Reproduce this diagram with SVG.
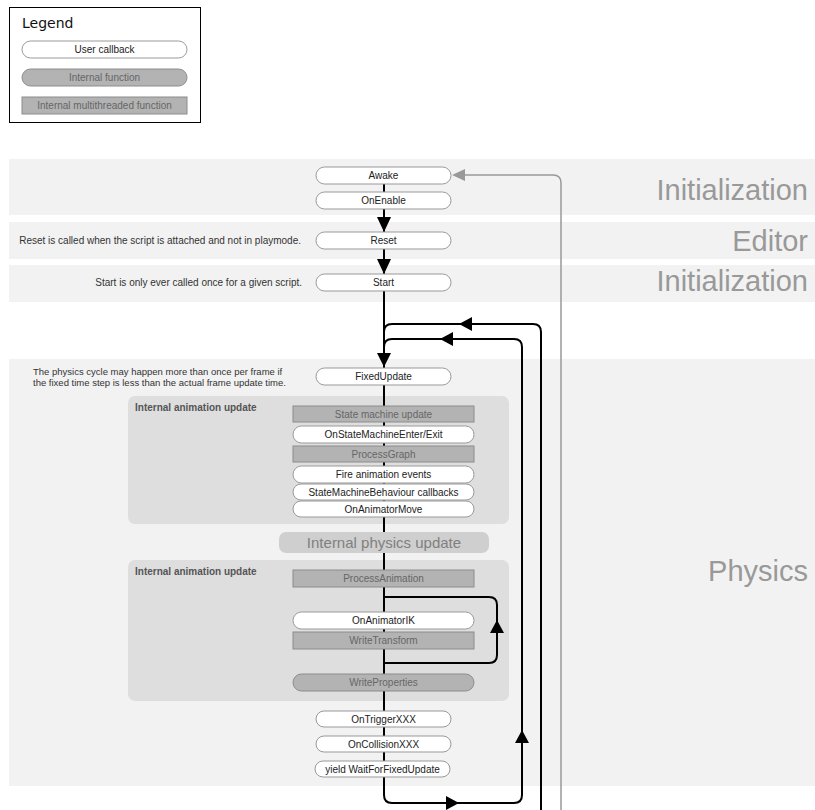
<svg xmlns="http://www.w3.org/2000/svg" width="815" height="810" viewBox="0 0 815 810">
<style>
text{font-family:"Liberation Sans",Arial,sans-serif}
.band{fill:#f2f2f2}
.big{font-size:29px;fill:#999;text-anchor:end}
.note{font-size:10px;fill:#333}
.cb rect{fill:#fff;stroke:#999;stroke-width:1}
.cb text{font-size:10px;fill:#222;text-anchor:middle}
.fn rect{fill:#b3b3b3;stroke:#8c8c8c;stroke-width:1}
.fn text{font-size:10px;fill:#666;text-anchor:middle}
.mt rect{fill:#b3b3b3;stroke:#8c8c8c;stroke-width:1}
.mt text{font-size:10px;fill:#666;text-anchor:middle}
.anim{fill:#dedede}
.hdr{font-size:10px;font-weight:bold;fill:#555}
.flow{fill:none;stroke:#000;stroke-width:2}
.ah{fill:#000}
</style>
<!-- Legend -->
<g id="legend">
<rect x="9.5" y="7.5" width="191" height="115" fill="#fff" stroke="#000" stroke-width="1"/>
<text x="22" y="28" style="font-family:'DejaVu Sans',sans-serif;font-size:14px" fill="#111">Legend</text>
<g class="cb"><rect x="22" y="41" width="165" height="17" rx="8.5"/><text x="104.5" y="53" fill="#4a3030">User callback</text></g>
<g class="fn"><rect x="22" y="69" width="165" height="17" rx="8.5"/><text x="104.5" y="81">Internal function</text></g>
<g class="mt"><rect x="22" y="97" width="165" height="17"/><text x="104.5" y="109">Internal multithreaded function</text></g>
</g>
<!-- Bands -->
<g id="bands">
<rect class="band" x="9" y="159" width="806" height="56"/>
<rect class="band" x="9" y="222" width="806" height="37"/>
<rect class="band" x="9" y="265" width="806" height="37"/>
<rect class="band" x="9" y="359" width="806" height="427"/>
<text class="big" x="808" y="200">Initialization</text>
<text class="big" x="808" y="251">Editor</text>
<text class="big" x="808" y="291">Initialization</text>
<text class="big" x="808" y="581">Physics</text>
<text class="note" x="301" y="244" text-anchor="end">Reset is called when the script is attached and not in playmode.</text>
<text class="note" x="302" y="286" text-anchor="end">Start is only ever called once for a given script.</text>
<text class="note" x="33" y="375" style="font-size:9.5px">The physics cycle may happen more than once per frame if</text>
<text class="note" x="33" y="386" style="font-size:9.5px">the fixed time step is less than the actual frame update time.</text>
</g>
<g id="anim1">
<rect class="anim" x="128" y="396" width="381" height="128" rx="7"/>
<text class="hdr" x="135" y="411">Internal animation update</text>
</g>
<g id="anim2">
<rect class="anim" x="128" y="560" width="381" height="141" rx="7"/>
<text class="hdr" x="135" y="575">Internal animation update</text>
</g>
<!-- Connectors -->
<g id="connectors">
<line x1="384" y1="184" x2="384" y2="795" stroke="#000" stroke-width="2"/>
<path class="flow" d="M384,795 Q384,803 392,803 L514,803 Q522,803 522,795 L522,347 Q522,339 514,339 L392,339 Q384,339 384,347"/>
<path class="flow" d="M541,812 L541,332 Q541,324 533,324 L392,324 Q384,324 384,332"/>
<path class="flow" d="M384,597 L489,597 Q497,597 497,605 L497,655 Q497,663 489,663 L384,663"/>
<path d="M464,175 L553,175 Q561,175 561,183 L561,812" fill="none" stroke="#999" stroke-width="1.5"/>
<path d="M452,175 L465,169 L465,181 Z" fill="#999"/>
<path class="ah" d="M384,232 L377,217 L391,217 Z"/>
<path class="ah" d="M384,274 L377,259 L391,259 Z"/>
<path class="ah" d="M384,367 L377,353 L391,353 Z"/>
<path class="ah" d="M459,324 L472,317 L472,331 Z"/>
<path class="ah" d="M440,339 L453,332 L453,346 Z"/>
<path class="ah" d="M459,803 L446,796 L446,810 Z"/>
<path class="ah" d="M522,730 L515,743 L529,743 Z"/>
<path class="ah" d="M497,620 L490,633 L504,633 Z"/>
</g>
<!-- Nodes -->
<g id="awake" class="cb"><rect x="316" y="167" width="135" height="17" rx="8.5"/><text x="383.5" y="179">Awake</text></g>
<g id="onenable" class="cb"><rect x="316" y="192" width="135" height="17" rx="8.5"/><text x="383.5" y="204">OnEnable</text></g>
<g id="reset" class="cb"><rect x="316" y="232" width="135" height="17" rx="8.5"/><text x="383.5" y="244">Reset</text></g>
<g id="start" class="cb"><rect x="316" y="274" width="135" height="17" rx="8.5"/><text x="383.5" y="286">Start</text></g>
<g id="fixedupdate" class="cb"><rect x="316" y="368" width="135" height="17" rx="8.5"/><text x="383.5" y="380">FixedUpdate</text></g>
<g id="statemachine" class="mt"><rect x="293" y="406" width="181" height="16"/><text x="383.5" y="418">State machine update</text></g>
<g id="onstatemachine" class="cb"><rect x="293" y="426" width="181" height="17" rx="8.5"/><text x="383.5" y="438">OnStateMachineEnter/Exit</text></g>
<g id="processgraph" class="mt"><rect x="293" y="446" width="181" height="16"/><text x="383.5" y="458">ProcessGraph</text></g>
<g id="fireanim" class="cb"><rect x="293" y="466" width="181" height="17" rx="8.5"/><text x="383.5" y="478">Fire animation events</text></g>
<g id="smbehaviour" class="cb"><rect x="293" y="484" width="181" height="16" rx="8"/><text x="383.5" y="496">StateMachineBehaviour callbacks</text></g>
<g id="onanimatormove" class="cb"><rect x="293" y="501" width="181" height="16" rx="8"/><text x="383.5" y="513">OnAnimatorMove</text></g>
<g id="physicsupdate"><rect x="279" y="532" width="210" height="21" rx="7" fill="#cfcfcf"/><text x="384" y="548" text-anchor="middle" font-size="15" fill="#808080">Internal physics update</text></g>
<g id="processanimation" class="mt"><rect x="293" y="570" width="181" height="17"/><text x="383.5" y="582">ProcessAnimation</text></g>
<g id="onanimatorik" class="cb"><rect x="293" y="612" width="181" height="17" rx="8.5"/><text x="383.5" y="624" fill="#4a3030">OnAnimatorIK</text></g>
<g id="writetransform" class="mt"><rect x="293" y="632" width="181" height="17"/><text x="383.5" y="644">WriteTransform</text></g>
<g id="writeproperties" class="fn"><rect x="293" y="674" width="181" height="17" rx="8.5"/><text x="383.5" y="686">WriteProperties</text></g>
<g id="ontrigger" class="cb"><rect x="316" y="711" width="135" height="16" rx="8"/><text x="383.5" y="723">OnTriggerXXX</text></g>
<g id="oncollision" class="cb"><rect x="316" y="736" width="135" height="16" rx="8"/><text x="383.5" y="748">OnCollisionXXX</text></g>
<g id="yield" class="cb"><rect x="315" y="761" width="135" height="16" rx="8"/><text x="382.5" y="773">yield WaitForFixedUpdate</text></g>
</svg>
